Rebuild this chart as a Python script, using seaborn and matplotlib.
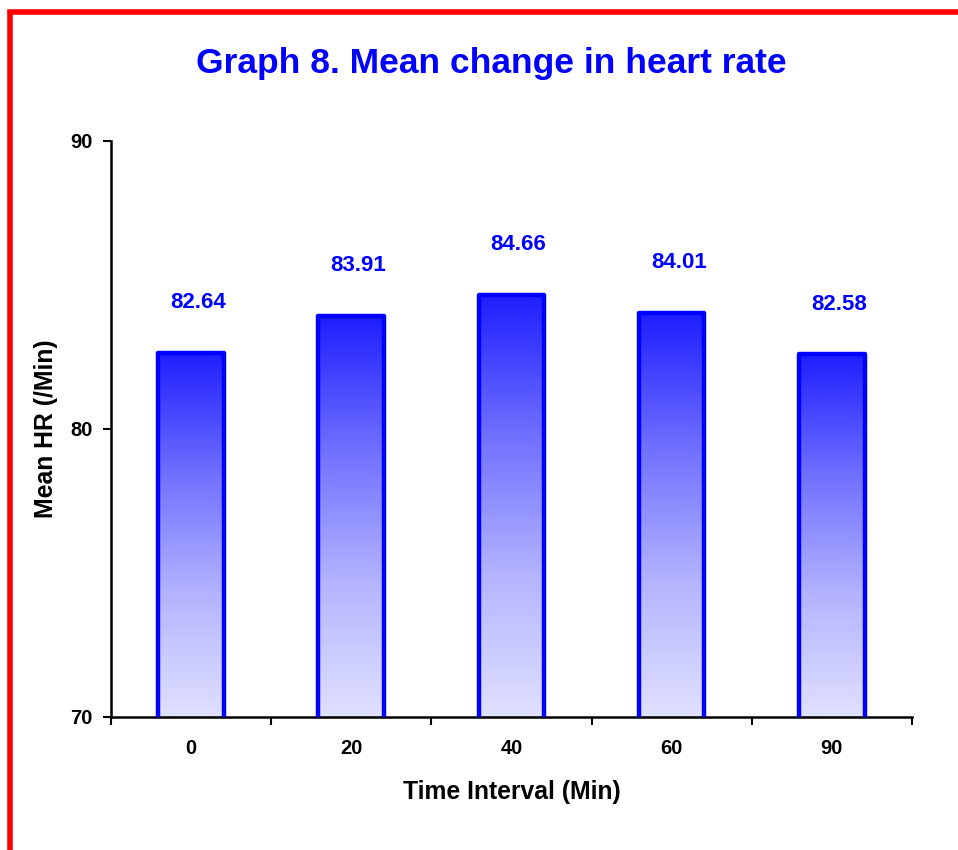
import numpy as np
import pandas as pd
import matplotlib
matplotlib.use("Agg")
import matplotlib.pyplot as plt
import matplotlib.transforms as mtransforms
import seaborn as sns
from matplotlib.colors import LinearSegmentedColormap
from matplotlib.patches import Rectangle

categories = ["0", "20", "40", "60", "90"]
values = [82.64, 83.91, 84.66, 84.01, 82.58]
yticks = [70, 80, 90]

sns.set_theme(style="white")
plt.rcParams['font.family'] = ['Liberation Sans', 'DejaVu Sans']
plt.rcParams['text.color'] = 'black'
plt.rcParams['axes.labelcolor'] = 'black'
plt.rcParams['xtick.color'] = 'black'
plt.rcParams['ytick.color'] = 'black'

fig = plt.figure(figsize=(9.58, 8.5), dpi=100)
ax = fig.add_axes([0.1159, 0.1565, 0.836, 0.678])

df = pd.DataFrame({"t": categories, "hr": values})
sns.barplot(data=df, x="t", y="hr", ax=ax, color="#0000FF", width=0.41,
            edgecolor="#0000FF", linewidth=3.2, errorbar=None)

ax.set_ylim(70, 90)
ax.set_xlim(-0.5, 4.5)

label_shift = mtransforms.offset_copy(ax.transData, fig=fig, x=7, y=0, units="dots")

cmap = LinearSegmentedColormap.from_list("g", ["#E0E0FF", "#B4B4FF", "#7070FF", "#1E1EFF"])
grad = np.linspace(0, 1, 256).reshape(-1, 1)
for p, v in zip(ax.patches, values):
    x0 = p.get_x(); w = p.get_width()
    y0 = 70; h = v - 70
    p.set_facecolor("none")
    p.set_zorder(3)
    p.set_joinstyle("round")
    im = ax.imshow(grad, cmap=cmap, aspect="auto", origin="lower",
                   extent=[x0, x0 + w, y0, v], zorder=2, interpolation="bilinear")
    im.set_clip_path(Rectangle((x0, y0), w, h, transform=ax.transData))
    ax.text(x0 + w / 2, v + 1.75, f"{v:.2f}", ha="center", va="center",
            color="#0000FF", fontsize=16, fontweight="bold", transform=label_shift)

ax.set_xlim(-0.5, 4.5)
ax.set_ylim(70, 90)

ax.set_yticks(yticks)
ax.set_yticklabels([str(t) for t in yticks], fontsize=14.5, fontweight="bold")
ax.set_xticks(np.arange(-0.5, 5, 1.0))
ax.set_xticklabels([])
ax.set_xticks(np.arange(0, 5), minor=True)
ax.set_xticklabels(categories, minor=True, fontsize=14.5, fontweight="bold")
ax.tick_params(axis="x", which="major", direction="out", length=6, width=1.5, color="black", bottom=True)
ax.tick_params(axis="x", which="minor", length=0, pad=16)
ax.tick_params(axis="y", direction="out", length=6, width=1.5, color="black", pad=7, left=True)

for s in ["top", "right"]:
    ax.spines[s].set_visible(False)
for s in ["left", "bottom"]:
    ax.spines[s].set_color("black")
    ax.spines[s].set_linewidth(1.8)

ax.set_xlabel("Time Interval (Min)", fontsize=17.8, fontweight="bold", labelpad=16)
ax.set_ylabel("Mean HR (/Min)", fontsize=17.8, fontweight="bold", labelpad=9)

fig.text(491 / 958, 1 - 63 / 850, "Graph 8. Mean change in heart rate", ha="center", va="center",
         color="#0000FF", fontsize=25.5, fontweight="bold")

border = Rectangle((10 / 958, -0.05), 1.2, 1 - 12 / 850 + 0.05, transform=fig.transFigure,
                   fill=False, edgecolor="#FF0000", linewidth=4, zorder=10)
fig.patches.append(border)

fig.savefig("out.png", dpi=100)
